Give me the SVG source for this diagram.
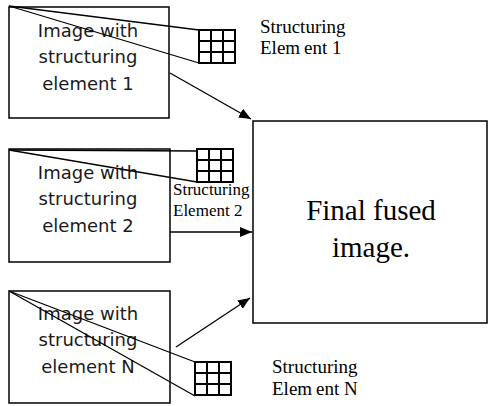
<svg xmlns="http://www.w3.org/2000/svg" width="488" height="406" viewBox="0 0 488 406">
<style>
.box{fill:#fff;stroke:#000;stroke-width:1.5}
.ln{stroke:#000;stroke-width:1.3;fill:none}
.grid{fill:#fff;stroke:#000;stroke-width:1.3;shape-rendering:crispEdges}
.bt{font-family:"DejaVu Sans",sans-serif;font-size:18px;fill:#1a1a1a;text-anchor:middle}
.lb{font-family:"Liberation Serif",serif;font-size:19px;fill:#000}
.ft{font-family:"Liberation Serif",serif;font-size:29px;fill:#000;text-anchor:middle}
</style>
<defs>
<marker id="ah" markerUnits="userSpaceOnUse" markerWidth="13" markerHeight="11" refX="12" refY="5" orient="auto">
<path d="M0,0 L12,5 L0,10 z" fill="#000"/>
</marker>
<g id="gridShape">
<rect class="grid" x="0" y="0" width="36" height="33"/>
<path class="grid" d="M12,0 V33 M24,0 V33 M0,11 H36 M0,22 H36"/>
</g>
</defs>
<g id="final">
<rect class="box" x="253" y="121" width="234" height="202"/>
<text class="ft" x="371" y="220">Final fused</text>
<text class="ft" x="371" y="257">image.</text>
</g>
<g id="img1">
<rect class="box" x="9" y="7" width="160" height="111"/>
<text class="bt" x="88" y="37">Image with</text>
<text class="bt" x="88" y="63">structuring</text>
<text class="bt" x="88" y="90">element 1</text>
</g>
<g id="img2">
<rect class="box" x="9" y="149" width="161" height="113"/>
<text class="bt" x="88" y="179">Image with</text>
<text class="bt" x="88" y="205">structuring</text>
<text class="bt" x="88" y="232">element 2</text>
</g>
<g id="img3">
<rect class="box" x="9" y="291" width="161" height="112"/>
<text class="bt" x="88" y="320">Image with</text>
<text class="bt" x="88" y="346">structuring</text>
<text class="bt" x="88" y="373">element N</text>
</g>
<g id="connectors">
<line class="ln" x1="9" y1="6" x2="199" y2="30"/>
<line class="ln" x1="9" y1="6" x2="199" y2="63"/>
<line class="ln" x1="170" y1="73" x2="251" y2="119" marker-end="url(#ah)"/>
<line class="ln" x1="9" y1="150" x2="197" y2="151"/>
<line class="ln" x1="9" y1="150" x2="197" y2="182"/>
<line class="ln" x1="170" y1="232" x2="252" y2="232" marker-end="url(#ah)"/>
<line class="ln" x1="9" y1="291" x2="195" y2="362"/>
<line class="ln" x1="9" y1="291" x2="195" y2="396"/>
<line class="ln" x1="176" y1="347" x2="250" y2="298" marker-end="url(#ah)"/>
</g>
<g id="se1">
<use href="#gridShape" x="199" y="30"/>
<text class="lb" x="260" y="33">Structuring</text>
<text class="lb" x="260" y="54"><tspan>Elem</tspan><tspan dx="4">ent 1</tspan></text>
</g>
<g id="se2">
<use href="#gridShape" x="197" y="149"/>
<text class="lb" x="173" y="195" style="font-size:17px">Structuring</text>
<text class="lb" x="173" y="216" style="font-size:17px">Element 2</text>
</g>
<g id="seN">
<use href="#gridShape" x="195" y="362"/>
<text class="lb" x="272" y="373">Structuring</text>
<text class="lb" x="272" y="395"><tspan>Elem</tspan><tspan dx="4">ent N</tspan></text>
</g>
</svg>
